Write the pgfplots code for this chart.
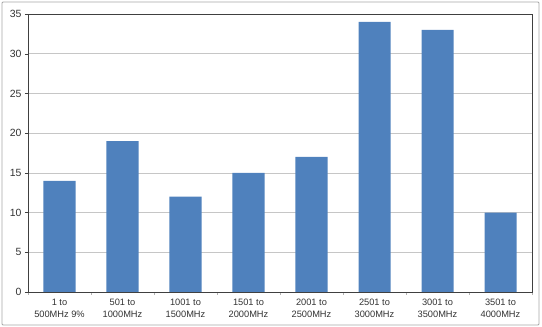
\documentclass[border=0pt]{standalone}
\usepackage{pgfplots}
\pgfplotsset{compat=1.18}
\usepackage{fontspec}
\setmainfont{Liberation Sans}
\definecolor{barblue}{RGB}{79,129,189}
\begin{document}
\begin{tikzpicture}[x=1bp,y=1bp]
\path (-28bp,-35bp) rectangle (514bp,292bp);
\draw[gray!70, line width=0.8bp, rounded corners=1bp] (-26bp,-33bp) rectangle (511bp,290bp);
\begin{axis}[
  at={(0,0)}, anchor=south west,
  scale only axis, width=504bp, height=278bp,
  xmin=-0.5, xmax=7.5, ymin=0, ymax=35,
  ytick={0,5,...,35},
  xtick={0,...,7},
  xticklabels={{1 to\\500MHz 9\%},{501 to\\1000MHz},{1001 to\\1500MHz},{1501 to\\2000MHz},{2001 to\\2500MHz},{2501 to\\3000MHz},{3001 to\\3500MHz},{3501 to\\4000MHz}},
  xticklabel style={align=center, font=\fontsize{9.3}{11.5}\selectfont, text=black!80, yshift=-1bp},
  yticklabel style={font=\fontsize{10.5}{12}\selectfont, text=black!80},
  /pgf/number format/assume math mode=true,
  minor xtick={-0.5,0.5,...,7.5},
  major x tick style={draw=none},
  minor x tick style={draw=gray!60},
  xtick pos=bottom, ytick pos=left,
  tick align=outside,
  major tick length=3bp, minor tick length=3bp,
  ymajorgrids, grid style={gray!45, line width=0.6bp},
  axis line style={black!75, line width=0.8bp},
  ytick style={black!75},
  ybar, bar width=32bp,
]
\addplot[fill=barblue, draw=none] coordinates {(0,14) (1,19) (2,12) (3,15) (4,17) (5,34) (6,33) (7,10)};
\end{axis}
\end{tikzpicture}
\end{document}
